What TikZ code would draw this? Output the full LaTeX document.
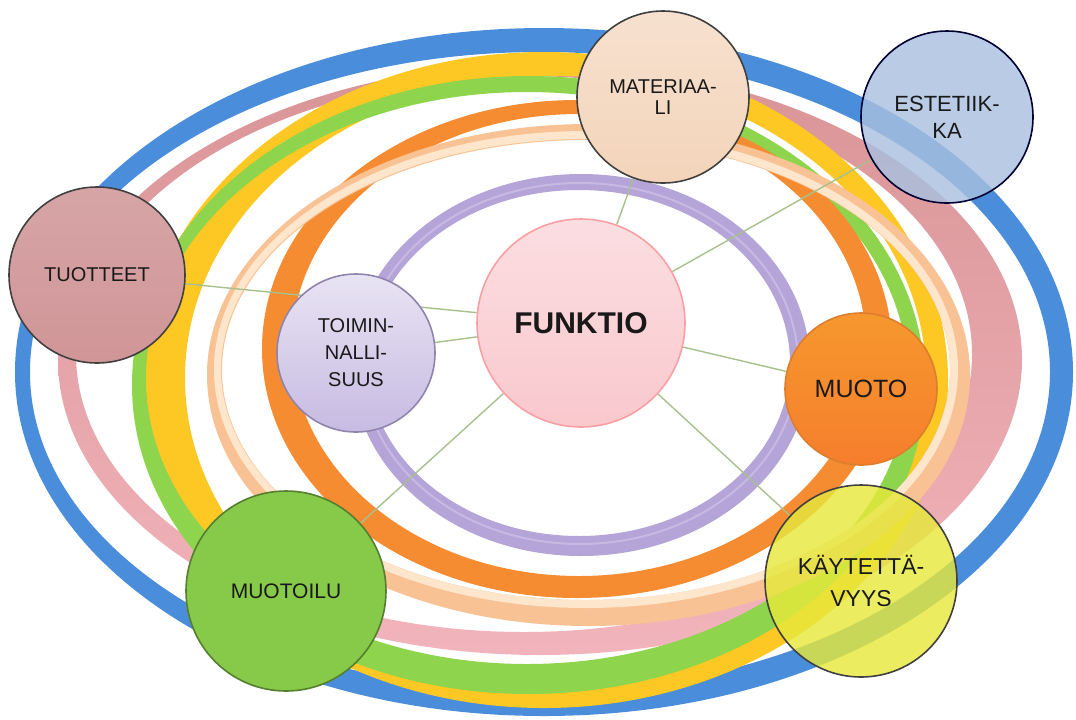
\documentclass[tikz,border=0pt]{standalone}
\usepackage{fontspec}
\setmainfont{Liberation Sans}
\pgfdeclarelayer{ringlayer}
\pgfdeclarelayer{linklayer}
\pgfsetlayers{ringlayer,linklayer,main}
\definecolor{cblue}{HTML}{4A8DDA}
\definecolor{crose}{HTML}{D99496}
\definecolor{cpink}{HTML}{F2B4BC}
\definecolor{cyellow}{HTML}{FDC724}
\definecolor{cgreen}{HTML}{8ED44C}
\definecolor{corange}{HTML}{F58C32}
\definecolor{cpeach}{HTML}{F9C294}
\definecolor{ccream}{HTML}{FDE6CC}
\definecolor{clav}{HTML}{B4A4D8}
\definecolor{clavlight}{HTML}{C6BAE3}
\definecolor{clink}{HTML}{A8C08C}
\definecolor{cest}{HTML}{A9C0DF}
\definecolor{ckay}{HTML}{E6E83C}
\definecolor{cfun}{HTML}{F9C8CD}
\definecolor{ctuo}{HTML}{D09597}
\definecolor{cmat}{HTML}{F3D4BA}
\newcommand\myring[9]{%
  \fill[#1, even odd rule]
    ({(#2+#3)/2},{(#4+#5)/2}) ellipse [x radius={(#3-#2)/2}, y radius={(#5-#4)/2}]
    ({(#6+#7)/2},{(#8+#9)/2}) ellipse [x radius={(#7-#6)/2}, y radius={(#9-#8)/2}];
}
\begin{document}
\begin{tikzpicture}[x=0.5pt,y=-0.5pt,
  bubble/.style={circle, inner sep=0pt, align=center, text=black!90, line width=0.8pt},
  link/.style={clink, line width=0.7pt},
  lbl/.style={font=\fontsize{10}{13.5}\selectfont}]
\useasboundingbox (0,0) rectangle (1076,719);
\begin{pgfonlayer}{ringlayer}
  % rose ring (lighter towards the bottom)
  \shade[top color=crose, middle color=crose, bottom color=cpink, even odd rule]
    (540,359.5) ellipse [x radius=482, y radius=295.5]
    (524,354) ellipse [x radius=448, y radius=278];
  % blue ring
  \myring{cblue}{15}{1073}{28}{716}{30}{1050}{52}{692}
  % yellow ring
  \myring{cyellow}{140}{948}{52}{708}{185}{926}{76}{680}
  % green ring
  \myring{cgreen}{132}{925}{76}{694}{146}{908}{92}{664}
  % orange ring
  \myring{corange}{262}{892}{100}{598}{292}{866}{114}{576}
  % peach ring
  \myring{cpeach}{207}{970}{124}{626}{222}{950}{140}{600}
  \myring{ccream}{214}{958}{131}{608}{221}{950}{139}{600}
  % lavender ring
  \myring{clav}{352}{810}{174}{556}{368}{790}{190}{536}
  \myring{clavlight}{361}{799}{182}{545}{363}{797}{184}{543}
\end{pgfonlayer}

\node[bubble, lbl, draw=black!75, top color=ctuo!85!white, bottom color=ctuo, minimum size=88pt] (TU) at (97,275) {TUOTTEET};
\node[bubble, lbl, draw=clav!80!black, top color=clav!30, bottom color=clav!75, minimum size=79pt] (TO) at (356,353) {TOIMIN-\\NALLI-\\SUUS};
\node[bubble, draw=cfun!80!red, top color=cfun!60!white, bottom color=cfun, minimum size=104pt, font=\bfseries\fontsize{15}{18}\selectfont] (F) at (581,323) {FUNKTIO};
\node[bubble, draw=black!75, top color=cmat!70!white, bottom color=cmat, minimum size=86pt, font=\fontsize{10}{10.5}\selectfont] (MA) at (663,97) {MATERIAA-\\LI};
\node[bubble, draw=black!80!blue, fill=cest, fill opacity=0.82, text opacity=1, minimum size=86pt, font=\fontsize{11}{13.5}\selectfont] (ES) at (947,117) {ESTETIIK-\\KA};
\node[bubble, draw=corange!90!black, top color=corange!90!yellow, bottom color=corange!90!red, minimum size=76pt, font=\fontsize{12.5}{14}\selectfont] (MU) at (861,389) {MUOTO};
\node[bubble, draw=cgreen!60!black, fill=cgreen!95!black, minimum size=100pt, font=\fontsize{10.5}{13}\selectfont] (ML) at (286,591) {MUOTOILU};
\node[bubble, draw=black!75, fill=ckay, fill opacity=0.82, text opacity=1, minimum size=96pt, font=\fontsize{11.5}{16}\selectfont] (KA) at (861,581) {KÄYTETTÄ-\\VYYS};

\begin{pgfonlayer}{linklayer}
  \draw[link] (F) -- (MA);
  \draw[link] (F) -- (ES);
  \draw[link] (F) -- (TU);
  \draw[link] (F) -- (TO);
  \draw[link] (F) -- (MU);
  \draw[link] (F) -- (KA);
  \draw[link] (F) -- (ML);
\end{pgfonlayer}
\end{tikzpicture}
\end{document}
